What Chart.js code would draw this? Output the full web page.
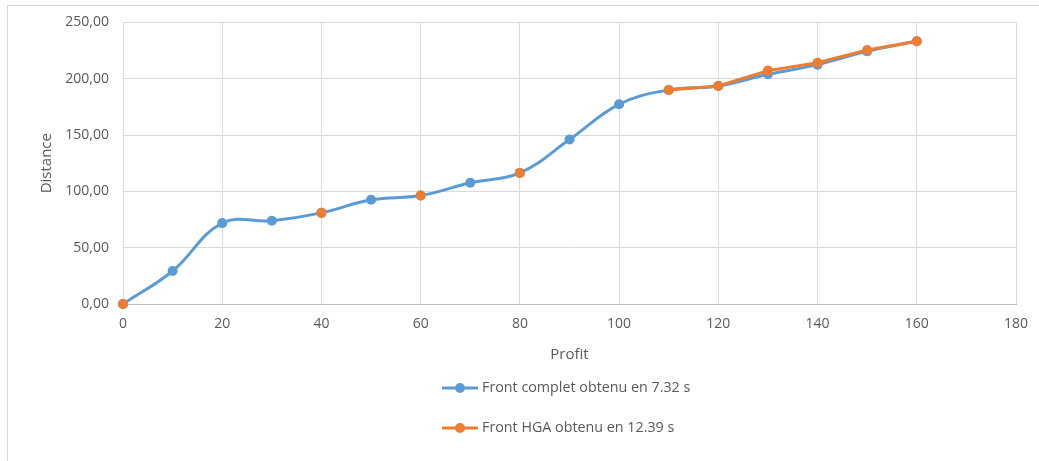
<!DOCTYPE html>
<html>
<head>
<meta charset="utf-8">
<script src="https://cdn.jsdelivr.net/npm/chart.js@4/dist/chart.umd.min.js"></script>
<style>
  html, body { margin: 0; padding: 0; background: #ffffff; }
  #wrap { width: 1039px; height: 461px; }
</style>
</head>
<body>
<div id="wrap"><canvas id="chart" width="1039" height="461"></canvas></div>
<script>
// Profit values (x) shared by both fronts
const profit = [0, 10, 20, 30, 40, 50, 60, 70, 80, 90, 100, 110, 120, 130, 140, 150, 160];

// Distance of the complete Pareto front
const frontComplet = [0, 29.3, 71.8, 73.9, 80.9, 92.5, 96.3, 107.6, 116.4, 146.0, 177.3, 190.0, 193.5, 203.9, 212.5, 224.3, 233.2];

// Distance of the HGA front (null where HGA found no solution)
const frontHGA = [0, null, null, null, 80.9, null, 96.3, null, 116.4, null, null, 190.0, 193.5, 207.2, 214.2, 225.5, 233.2];

const seriesLabels = ['Front complet obtenu en 7.32 s', 'Front HGA obtenu en 12.39 s'];
const xTicks = [0, 20, 40, 60, 80, 100, 120, 140, 160, 180];
const yTicks = [0, 50, 100, 150, 200, 250];

const BLUE = '#5b9bd5';
const ORANGE = '#ed7d31';
const TEXT = '#595959';
const FONT = '"Open Sans", "Liberation Sans", sans-serif';

const toPoints = (ys) => profit.map((x, i) => ({ x: x, y: ys[i] }));

// White background and thin frame around the chart
const framePlugin = {
  id: 'frame',
  beforeDraw(chart) {
    const ctx = chart.ctx;
    ctx.save();
    ctx.fillStyle = '#ffffff';
    ctx.fillRect(0, 0, chart.width, chart.height);
    ctx.strokeStyle = '#d9d9d9';
    ctx.lineWidth = 1;
    ctx.strokeRect(7.5, 5.5, chart.width + 20, chart.height + 20);
    ctx.restore();
  }
};

// Legend stacked vertically below the axis title
const stackedLegend = {
  id: 'stackedLegend',
  afterDraw(chart) {
    const ctx = chart.ctx;
    const rows = [388, 428];
    const x0 = 442, lineW = 36;
    ctx.save();
    chart.data.datasets.forEach((ds, i) => {
      const y = rows[i];
      ctx.strokeStyle = ds.borderColor;
      ctx.lineWidth = 3;
      ctx.beginPath();
      ctx.moveTo(x0, y);
      ctx.lineTo(x0 + lineW, y);
      ctx.stroke();
      ctx.fillStyle = ds.pointBackgroundColor;
      ctx.beginPath();
      ctx.arc(x0 + lineW / 2, y, 5, 0, Math.PI * 2);
      ctx.fill();
      ctx.fillStyle = TEXT;
      ctx.font = '14.3px ' + FONT;
      ctx.textBaseline = 'middle';
      ctx.textAlign = 'left';
      ctx.fillText(ds.label, x0 + lineW + 4, y);
    });
    ctx.restore();
  }
};

new Chart(document.getElementById('chart'), {
  type: 'line',
  data: {
    datasets: [
      {
        label: seriesLabels[0],
        data: toPoints(frontComplet),
        borderColor: BLUE,
        backgroundColor: BLUE,
        pointBackgroundColor: BLUE,
        pointBorderColor: BLUE,
        borderWidth: 3,
        pointRadius: 5,
        pointBorderWidth: 0,
        tension: 0.4,
        clip: false,
        order: 1
      },
      {
        label: seriesLabels[1],
        data: toPoints(frontHGA),
        borderColor: ORANGE,
        backgroundColor: ORANGE,
        pointBackgroundColor: ORANGE,
        pointBorderColor: ORANGE,
        borderWidth: 3,
        pointRadius: 5,
        pointBorderWidth: 0,
        tension: 0,
        spanGaps: false,
        clip: false,
        order: 0
      }
    ]
  },
  options: {
    responsive: false,
    animation: false,
    events: [],
    layout: { padding: { left: 0, right: 23, top: 22, bottom: 97 } },
    plugins: {
      legend: { display: false },
      tooltip: { enabled: false }
    },
    scales: {
      x: {
        type: 'linear',
        min: 0,
        max: 180,
        afterBuildTicks(scale) { scale.ticks = xTicks.map(v => ({ value: v })); },
        afterFit(scale) {
          scale.height = 60;
          scale.paddingLeft = 0;
          scale.paddingRight = 0;
        },
        grid: { color: '#d9d9d9', lineWidth: 1, drawTicks: false },
        border: { display: true, color: '#bfbfbf', width: 1 },
        ticks: { color: TEXT, font: { family: FONT, size: 14 }, padding: 12, maxRotation: 0 },
        title: {
          display: true,
          text: 'Profit',
          color: TEXT,
          font: { family: FONT, size: 15 },
          padding: { top: -4, bottom: 0 }
        }
      },
      y: {
        min: 0,
        max: 250,
        afterBuildTicks(scale) { scale.ticks = yTicks.map(v => ({ value: v })); },
        afterFit(scale) { scale.width = 123; },
        grid: { color: '#d9d9d9', lineWidth: 1, drawTicks: false },
        border: { display: false },
        ticks: {
          color: TEXT,
          font: { family: FONT, size: 14 },
          padding: 14,
          callback: (v) => v.toFixed(2).replace('.', ',')
        },
        title: {
          display: true,
          text: 'Distance',
          color: TEXT,
          font: { family: FONT, size: 15 },
          padding: { top: 38, bottom: 0 }
        }
      }
    }
  },
  plugins: [framePlugin, stackedLegend]
});
</script>
</body>
</html>
